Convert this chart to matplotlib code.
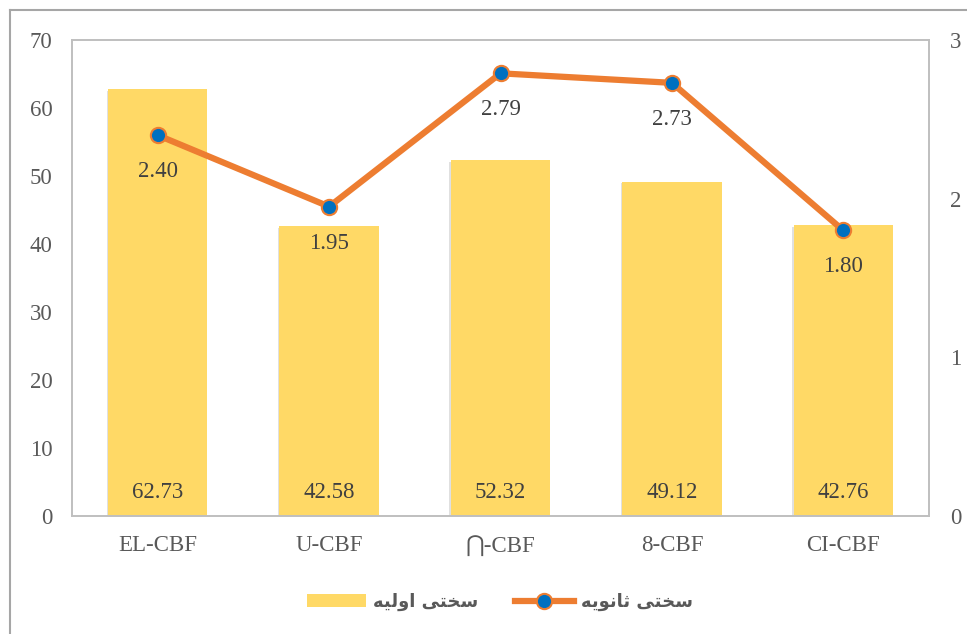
import numpy as np
import matplotlib.pyplot as plt
import matplotlib.patheffects as pe
from matplotlib.lines import Line2D

# data
categories = ["EL-CBF", "U-CBF", "\u22c2-CBF", "8-CBF", "CI-CBF"]
primary = [62.73, 42.58, 52.32, 49.12, 42.76]     # سختی اولیه (left axis)
secondary = [2.40, 1.95, 2.79, 2.73, 1.80]        # سختی ثانویه (right axis)
label_primary = "سختی اولیه"
label_secondary = "سختی ثانویه"

# minimal arabic shaping (matplotlib has no bidi/shaping)
FORMS = {
    "س": ("\ufeb1", "\ufeb2", "\ufeb3", "\ufeb4"),
    "خ": ("\ufea5", "\ufea6", "\ufea7", "\ufea8"),
    "ت": ("\ufe95", "\ufe96", "\ufe97", "\ufe98"),
    "ی": ("\ufeef", "\ufef0", "\ufef3", "\ufef4"),
    "ا": ("\ufe8d", "\ufe8e", None, None),
    "و": ("\ufeed", "\ufeee", None, None),
    "ل": ("\ufedd", "\ufede", "\ufedf", "\ufee0"),
    "ه": ("\ufee9", "\ufeea", "\ufeeb", "\ufeec"),
    "ث": ("\ufe99", "\ufe9a", "\ufe9b", "\ufe9c"),
    "ن": ("\ufee5", "\ufee6", "\ufee7", "\ufee8"),
}


def shape(text):
    out = []
    for i, ch in enumerate(text):
        if ch not in FORMS:
            out.append(ch)
            continue
        prev = text[i - 1] if i > 0 else " "
        nxt = text[i + 1] if i + 1 < len(text) else " "
        join_prev = prev in FORMS and FORMS[prev][2] is not None
        join_next = nxt in FORMS and FORMS[ch][2] is not None
        f = FORMS[ch]
        if join_prev and join_next:
            out.append(f[3])
        elif join_prev:
            out.append(f[1])
        elif join_next:
            out.append(f[2])
        else:
            out.append(f[0])
    return "".join(out[::-1])


plt.rcParams["font.family"] = ["Liberation Serif", "DejaVu Serif", "DejaVu Sans"]
grey = "#595959"
fs = 16.5

fig = plt.figure(figsize=(9.67, 6.34), dpi=100)
ax = fig.add_axes([0.0745, 0.1861, 0.8862, 0.7508])
ax2 = ax.twinx()

x = np.arange(len(categories))
bars = ax.bar(x, primary, width=0.58, color="#FFD966", zorder=2,
              label=shape(label_primary))
for b in bars:
    b.set_path_effects([pe.SimplePatchShadow(offset=(-1, -1),
                                             shadow_rgbFace="#9a9a9a",
                                             alpha=0.3), pe.Normal()])
for xi, v in zip(x, primary):
    ax.text(xi, 3.5, f"{v:.2f}", ha="center", va="center",
            fontsize=fs, color="#404040", zorder=3)

ax2.plot(x, secondary, color="#ED7D31", lw=4.5, marker="o", ms=11,
         mfc="#0070C0", mec="#ED7D31", mew=1.5, zorder=4,
         label=shape(label_secondary))
for xi, v in zip(x, secondary):
    ax2.text(xi, v - 0.23, f"{v:.2f}", ha="center", va="center",
             fontsize=fs, color="#404040")

ax.set_xlim(-0.5, len(categories) - 0.5)
ax.set_ylim(0, 70)
ax.set_yticks(range(0, 71, 10))
ax2.set_ylim(0, 3)
ax2.set_yticks([0, 1, 2, 3])
ax.set_xticks(x)
ax.set_xticklabels(categories)

ax.tick_params(axis="y", length=0, pad=14, labelsize=fs, labelcolor=grey)
ax.tick_params(axis="x", length=0, pad=14, labelsize=fs, labelcolor=grey)
ax2.tick_params(axis="y", length=0, pad=15, labelsize=fs, labelcolor=grey)

for a in (ax, ax2):
    for s in a.spines.values():
        s.set_color("#BFBFBF")
        s.set_linewidth(1.2)

# outer chart border
fig.add_artist(Line2D([10 / 967, 10 / 967], [0, 1 - 10 / 634],
                      color="#A6A6A6", lw=1.5))
fig.add_artist(Line2D([10 / 967, 1], [1 - 10 / 634, 1 - 10 / 634],
                      color="#A6A6A6", lw=1.5))

h1, l1 = ax.get_legend_handles_labels()
h2, l2 = ax2.get_legend_handles_labels()
leg = fig.legend(h1 + h2, l1 + l2, loc="center", ncol=2,
                 bbox_to_anchor=(500 / 967, 1 - 602 / 634), frameon=False,
                 handlelength=3.3, handletextpad=0.4, columnspacing=2.0,
                 prop={"family": "DejaVu Sans", "weight": "bold", "size": 13})
leg.legend_handles[0].set_path_effects([])
for t in leg.get_texts():
    t.set_color(grey)

fig.savefig("out.png", dpi=100)
